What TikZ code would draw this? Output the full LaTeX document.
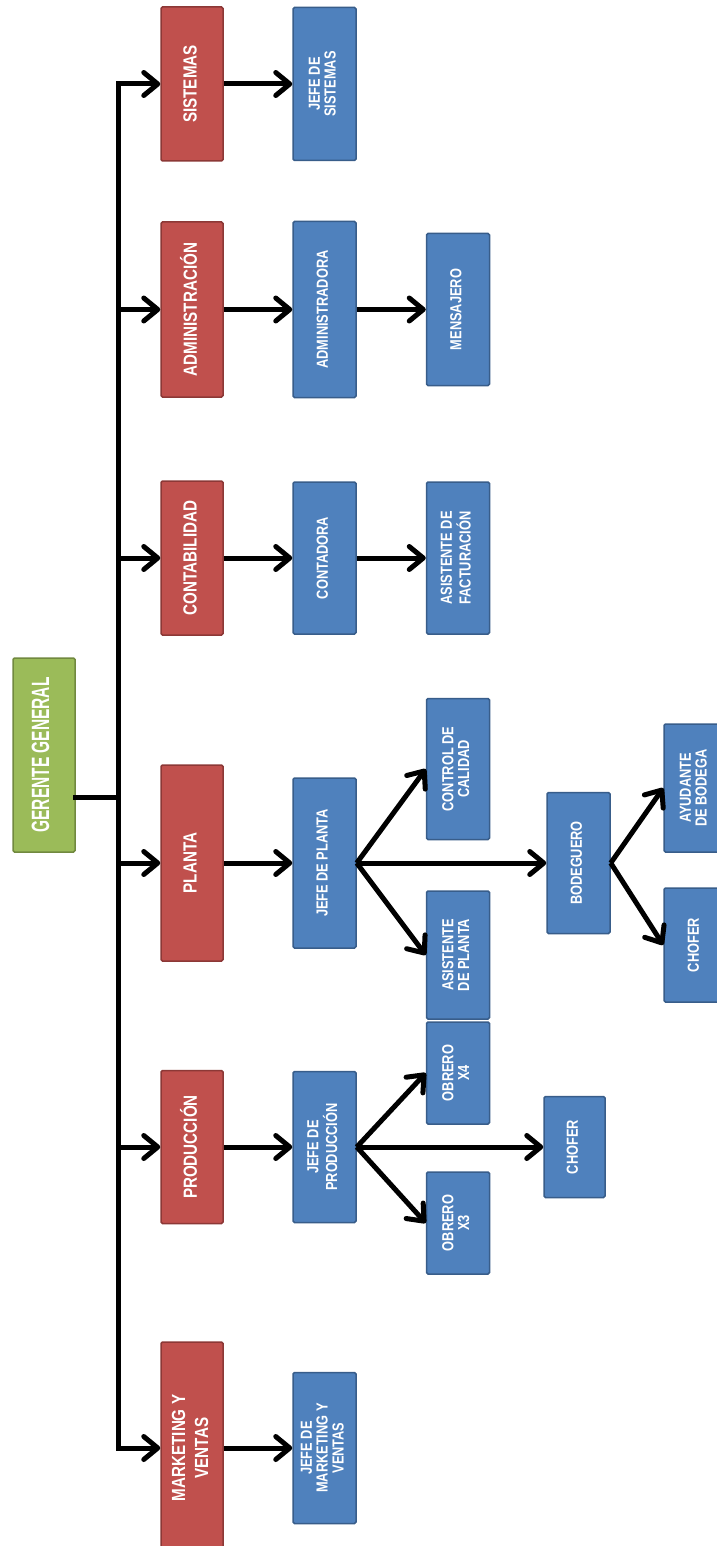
\documentclass[tikz,border=0pt]{standalone}
\usepackage{fontspec}
\setmainfont{Liberation Sans}[FakeStretch=0.8]
\newfontfamily\narrowfont{Liberation Sans}[FakeStretch=0.62]
\usetikzlibrary{arrows.meta}
\definecolor{redfill}{HTML}{C0504D}
\definecolor{redline}{HTML}{8C3836}
\definecolor{bluefill}{HTML}{4F81BD}
\definecolor{blueline}{HTML}{385D8A}
\definecolor{greenfill}{HTML}{9BBB59}
\definecolor{greenline}{HTML}{71893F}
% vertical (bottom-to-top) multi-line label
\newcommand\vlabel[1]{\rotatebox{90}{\begin{tabular}{@{}c@{}}#1\end{tabular}}}

\begin{document}
\begin{tikzpicture}[x=1pt,y=-1pt,
  orgbox/.style={rectangle, rounded corners=1.5pt, line width=1.5pt, inner sep=0pt, text=white},
  topbox/.style={orgbox, draw=greenline, fill=greenfill, minimum width=62pt,
    font=\narrowfont\fontsize{25}{26}\selectfont\bfseries},
  area/.style={orgbox, draw=redline, fill=redfill, minimum width=62pt,
    font=\fontsize{19}{23}\selectfont\bfseries},
  post/.style={orgbox, draw=blueline, fill=bluefill, minimum width=63pt,
    font=\fontsize{16}{15.5}\selectfont\bfseries},
  conn/.style={line width=5pt, -{Straight Barb[round,length=14pt,width=23pt]}},
  trunk/.style={line width=5pt, line cap=rect}]

\fill[white] (0,0) rectangle (716,1546);
\useasboundingbox (0,0) rectangle (716,1546);

% general manager
\node[topbox, minimum height=194pt] (gg) at (44,755) {\vlabel{GERENTE GENERAL}};

% departments
\node[area, minimum height=154pt] (sis) at (192,84)     {\vlabel{SISTEMAS}};
\node[area, minimum height=175pt] (adm) at (192,309.5)  {\vlabel{ADMINISTRACIÓN}};
\node[area, minimum height=154pt] (con) at (192,558)    {\vlabel{CONTABILIDAD}};
\node[area, minimum height=196pt] (pla) at (192,863)    {\vlabel{PLANTA}};
\node[area, minimum height=153pt] (pro) at (192,1147)   {\vlabel{PRODUCCIÓN}};
\node[area, minimum height=212pt] (mkt) at (192,1448)   {\vlabel{MARKETING Y\\VENTAS}};

% first level of positions
\node[post, minimum height=153pt] (jsis) at (324.5,84)    {\vlabel{JEFE DE\\SISTEMAS}};
\node[post, minimum height=176pt] (adma) at (324.5,309.5) {\vlabel{ADMINISTRADORA}};
\node[post, minimum height=152pt] (cont) at (324.5,558)   {\vlabel{CONTADORA}};
\node[post, minimum height=170pt] (jpla) at (324.5,863)   {\vlabel{JEFE DE PLANTA}};
\node[post, minimum height=151pt] (jpro) at (324.5,1147)  {\vlabel{JEFE DE\\PRODUCCIÓN}};
\node[post, minimum height=151pt] (jmkt) at (324.5,1448)  {\vlabel{JEFE DE\\MARKETING Y\\VENTAS}};

% second level
\node[post, minimum height=152pt] (mens) at (458,309.5) {\vlabel{MENSAJERO}};
\node[post, minimum height=152pt] (asf)  at (458,558)   {\vlabel{ASISTENTE DE\\FACTURACIÓN}};
\node[post, minimum height=141pt] (ctrl) at (458,769)   {\vlabel{CONTROL DE\\CALIDAD}};
\node[post, minimum height=128pt] (asp)  at (458,955)   {\vlabel{ASISTENTE\\DE PLANTA}};
\node[post, minimum height=102pt] (ox4)  at (458,1073)  {\vlabel{OBRERO\\X4}};
\node[post, minimum height=102pt] (ox3)  at (458,1223)  {\vlabel{OBRERO\\X3}};

% third and fourth level
\node[post, minimum height=141pt] (bod)  at (578.5,863)  {\vlabel{BODEGUERO}};
\node[post, minimum width=61pt, minimum height=101pt] (chp) at (574.5,1147) {\vlabel{CHOFER}};
\node[post, minimum height=128pt] (ayu)  at (695.5,788)  {\vlabel{AYUDANTE\\DE BODEGA}};
\node[post, minimum height=114pt] (chb)  at (695.5,945)  {\vlabel{CHOFER}};

% trunk from the general manager
\coordinate (hub) at (118,797);
\draw[trunk] (gg.east |- hub) -- (hub);
\draw[trunk] (sis.west -| hub) -- (mkt.west -| hub);
\foreach \d in {sis,adm,con,pla,pro,mkt}
  \draw[conn] (\d.west -| hub) -- (\d.west);

% department to head
\draw[conn] (sis.east) -- (sis.east -| jsis.west);
\draw[conn] (adm.east) -- (adm.east -| adma.west);
\draw[conn] (con.east) -- (con.east -| cont.west);
\draw[conn] (pla.east) -- (pla.east -| jpla.west);
\draw[conn] (pro.east) -- (pro.east -| jpro.west);
\draw[conn] (mkt.east) -- (mkt.east -| jmkt.west);

% head to staff
\draw[conn] (adma.east) -- (mens.west);
\draw[conn] (cont.east) -- (asf.west);
\draw[conn] (jpla.east) -- (ctrl.west);
\draw[conn] (jpla.east) -- (asp.west);
\draw[conn] (jpla.east) -- (bod.west);
\draw[conn] (bod.east) -- (ayu.west);
\draw[conn] (bod.east) -- (chb.west);
\draw[conn] (jpro.east) -- (ox4.west);
\draw[conn] (jpro.east) -- (ox3.west);
\draw[conn] (jpro.east) -- (chp.west);
\end{tikzpicture}
\end{document}
